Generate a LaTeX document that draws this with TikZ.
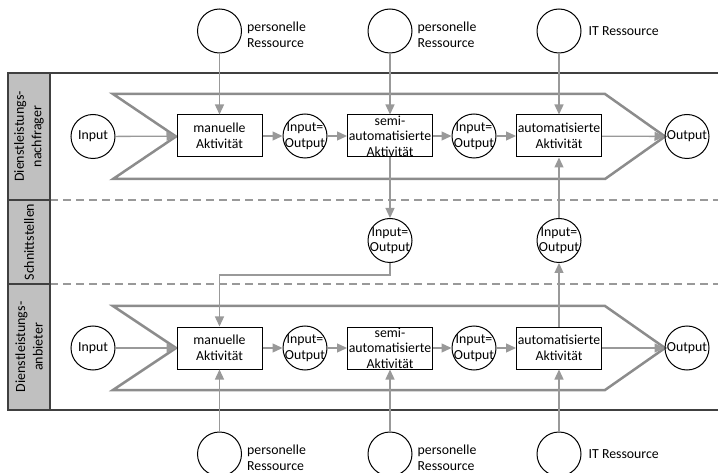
\documentclass[tikz,border=0pt]{standalone}
\usepackage{fontspec}
\setmainfont{Carlito}
\usetikzlibrary{arrows.meta}
\definecolor{cFlow}{HTML}{999999}
\definecolor{cBand}{HTML}{8C8C8C}
\definecolor{cLane}{HTML}{C0C0C0}
\definecolor{cFrame}{HTML}{404040}
\newcommand\dfont{\fontsize{13.8pt}{15.5pt}\selectfont}
\newcommand\lfont{\fontsize{14pt}{17.5pt}\selectfont}

\begin{document}
\begin{tikzpicture}[x=1pt,y=-1pt,
  every label/.style={font=\dfont, align=center, inner sep=0pt},
  rescircle/.style={circle, draw=black, line width=1pt, minimum size=44pt, inner sep=0pt},
  iocircle/.style={circle, draw=black, line width=1pt, minimum size=44pt, inner sep=0pt},
  actbox/.style={rectangle, draw=black, line width=1pt, minimum width=85pt, minimum height=42pt, inner sep=0pt},
  flowarrow/.style={draw=cFlow, line width=1.3pt, -{Triangle[length=10pt,width=9pt]}},
  chevron/.style={draw=cBand, line width=2.5pt, line join=miter},
  lanelabel/.style={rotate=90, font=\lfont, align=center, inner sep=0pt},
  reslabel/.style={anchor=west, font=\dfont, align=left, inner sep=0pt},
  frameline/.style={draw=cFrame, line width=1.5pt},
  laneborder/.style={draw=cFlow, line width=1.3pt, dash pattern=on 8pt off 5pt},
]
\useasboundingbox (0,0) rectangle (718,473);

% lane frame and label column
\fill[cLane] (8,73) rectangle (50,410);
\draw[laneborder] (50,200) -- (718,200);
\draw[laneborder] (50,284) -- (718,284);
\draw[frameline] (8,200) -- (50,200);
\draw[frameline] (8,284) -- (50,284);
\draw[frameline] (718,73) -- (8,73) -- (8,410) -- (718,410);
\draw[frameline] (50,73) -- (50,410);

\node[lanelabel] (laneA) at (29,136.5) {Dienstleistungs-\\nachfrager};
\node[lanelabel] (laneS) at (29,242) {Schnittstellen};
\node[lanelabel] (laneB) at (29,347) {Dienstleistungs-\\anbieter};

% process chevrons
\draw[chevron] (113,94) -- (605,94) -- (665,136.5) -- (605,179) -- (113,179) -- (176,136.5) -- cycle;
\draw[chevron] (113,306) -- (605,306) -- (665,348) -- (605,390) -- (113,390) -- (176,348) -- cycle;

% upper lane
\node[iocircle, label=center:Input] (inA) at (93,136.5) {};
\node[actbox, label={center:manuelle\\Aktivität}] (manA) at (219.5,136) {};
\node[iocircle, label={center:Input=\\Output}] (ioA1) at (305,136) {};
\node[actbox, label={center:semi-\\automatisierte\\Aktivität}] (semA) at (390,136) {};
\node[iocircle, label={center:Input=\\Output}] (ioA2) at (474,136) {};
\node[actbox, label={center:automatisierte\\Aktivität}] (autA) at (559,136) {};
\node[iocircle, label=center:Output] (outA) at (687,136.5) {};

% lower lane
\node[iocircle, label=center:Input] (inB) at (93,348) {};
\node[actbox, label={center:manuelle\\Aktivität}] (manB) at (219.5,348) {};
\node[iocircle, label={center:Input=\\Output}] (ioB1) at (305,348) {};
\node[actbox, label={center:semi-\\automatisierte\\Aktivität}] (semB) at (390,348) {};
\node[iocircle, label={center:Input=\\Output}] (ioB2) at (474,348) {};
\node[actbox, label={center:automatisierte\\Aktivität}] (autB) at (559,348) {};
\node[iocircle, label=center:Output] (outB) at (687,348) {};

% interface lane
\node[iocircle, label={center:Input=\\Output}] (ifL) at (390,240.5) {};
\node[iocircle, label={center:Input=\\Output}] (ifR) at (559,240.5) {};

% resources
\node[rescircle] (rA1) at (219.5,31) {};
\node[rescircle] (rA2) at (390,31) {};
\node[rescircle] (rA3) at (559,31) {};
\node[reslabel] (tA1) at ([xshift=5pt,yshift=-4pt]rA1.east) {personelle\\Ressource};
\node[reslabel] (tA2) at ([xshift=5pt,yshift=-4pt]rA2.east) {personelle\\Ressource};
\node[reslabel] (tA3) at ([xshift=7pt]rA3.east) {IT Ressource};

\node[rescircle] (rB1) at (219.5,454) {};
\node[rescircle] (rB2) at (390,454) {};
\node[rescircle] (rB3) at (559,454) {};
\node[reslabel] (tB1) at ([xshift=5pt,yshift=-4pt]rB1.east) {personelle\\Ressource};
\node[reslabel] (tB2) at ([xshift=5pt,yshift=-4pt]rB2.east) {personelle\\Ressource};
\node[reslabel] (tB3) at ([xshift=7pt]rB3.east) {IT Ressource};

% flows in the upper lane
\draw[flowarrow] (inA) -- (manA);
\draw[flowarrow] (manA) -- (ioA1);
\draw[flowarrow] (ioA1) -- (semA);
\draw[flowarrow] (semA) -- (ioA2);
\draw[flowarrow] (ioA2) -- (autA);
\draw[flowarrow] (autA) -- (outA);

% flows in the lower lane
\draw[flowarrow] (inB) -- (manB);
\draw[flowarrow] (manB) -- (ioB1);
\draw[flowarrow] (ioB1) -- (semB);
\draw[flowarrow] (semB) -- (ioB2);
\draw[flowarrow] (ioB2) -- (autB);
\draw[flowarrow] (autB) -- (outB);

% resources feeding the activities
\draw[flowarrow] (rA1) -- (manA);
\draw[flowarrow] (rA2) -- (semA);
\draw[flowarrow] (rA3) -- (autA);
\draw[flowarrow] (rB1) -- (manB);
\draw[flowarrow] (rB2) -- (semB);
\draw[flowarrow] (rB3) -- (autB);

% exchanges across the interface lane
\draw[flowarrow] (semA) -- (ifL);
\draw[flowarrow] (ifL.south) -- ++(0,12) -| (manB.north);
\draw[flowarrow] (autB) -- (ifR);
\draw[flowarrow] (ifR) -- (autA);
\end{tikzpicture}
\end{document}
